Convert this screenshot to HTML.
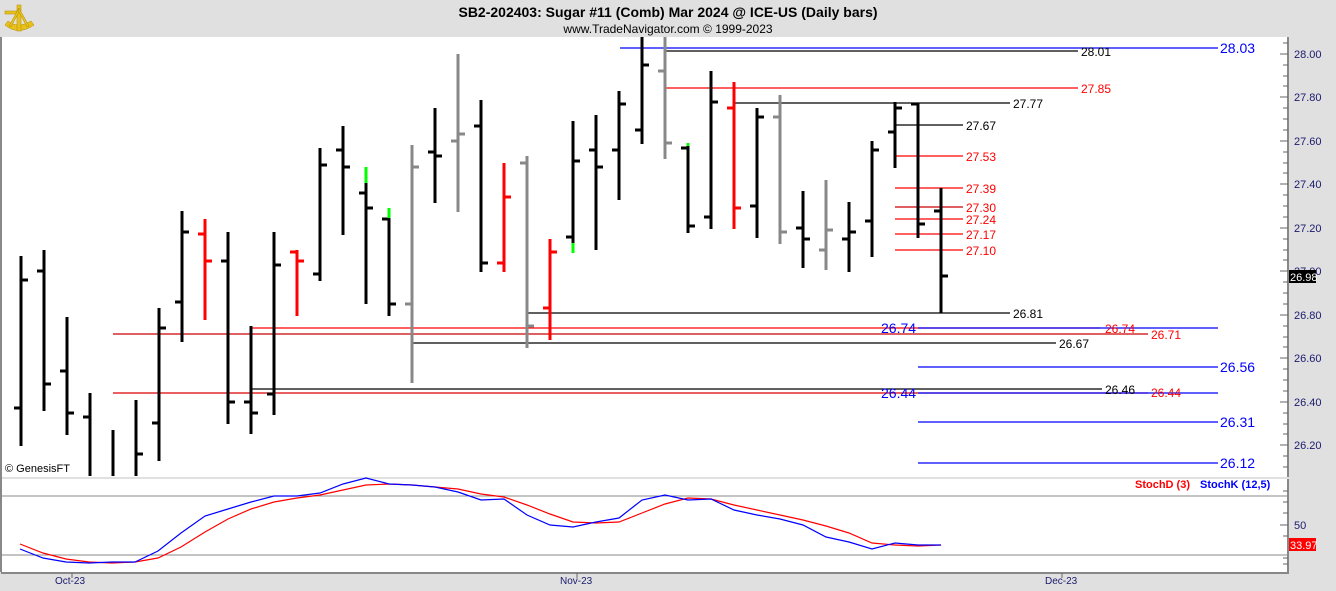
<!DOCTYPE html>
<html><head><meta charset="utf-8"><style>
body{margin:0;background:#e0e0e0;}
svg{display:block;font-family:"Liberation Sans",sans-serif;}
</style></head><body>
<svg width="1336" height="591" viewBox="0 0 1336 591" xmlns="http://www.w3.org/2000/svg">
<rect width="1336" height="591" fill="#e0e0e0"/>
<g fill="#e8c21a" stroke="#b08a00" stroke-width="0.5">
<path d="M5 25 Q18 36 34 25 L31 21 Q18 29 8 21 Z"/>
<rect x="17" y="5" width="4" height="26"/>
<rect x="5" y="11" width="12" height="3"/>
<path d="M19 8 L9 26 L11 27 L20 10 Z"/><path d="M19 8 L29 26 L27 27 L18 10 Z"/>
</g>
<text x="668" y="17" text-anchor="middle" font-size="14" font-weight="bold">SB2-202403:  Sugar #11 (Comb) Mar 2024 @ ICE-US  (Daily bars)</text>
<text x="668" y="33" text-anchor="middle" font-size="12">www.TradeNavigator.com © 1999-2023</text>
<rect x="1" y="37" width="1286" height="440" fill="#fff"/>
<rect x="1" y="479" width="1286" height="93" fill="#fff"/>
<line x1="1" y1="37" x2="1" y2="572" stroke="#888" stroke-width="2"/>
<line x1="1288" y1="37" x2="1288" y2="477" stroke="#888" stroke-width="2"/>
<line x1="1288" y1="479" x2="1288" y2="573" stroke="#888" stroke-width="2"/>
<line x1="1" y1="573" x2="1289" y2="573" stroke="#888" stroke-width="2"/>
<g stroke="#666" stroke-width="1">
<path d="M1280 54H1288M1280 97H1288M1280 141H1288M1280 184H1288M1280 228H1288M1280 271H1288M1280 315H1288M1280 358H1288M1280 402H1288M1280 445H1288"/>
<path d="M1283 43H1288M1283 65H1288M1283 76H1288M1283 86H1288M1283 108H1288M1283 119H1288M1283 130H1288M1283 152H1288M1283 163H1288M1283 173H1288M1283 195H1288M1283 206H1288M1283 217H1288M1283 239H1288M1283 250H1288M1283 260H1288M1283 282H1288M1283 293H1288M1283 304H1288M1283 326H1288M1283 337H1288M1283 347H1288M1283 369H1288M1283 380H1288M1283 391H1288M1283 413H1288M1283 424H1288M1283 434H1288M1283 456H1288M1283 467H1288"/>
<path d="M1283 491H1288M1283 502H1288M1283 513H1288M1280 525H1288M1283 536H1288M1283 558H1288M1283 564H1288"/>
</g>
<g font-size="11" fill="#1a1a6e">
<text x="1294" y="58">28.00</text><text x="1294" y="101">27.80</text><text x="1294" y="145">27.60</text><text x="1294" y="188">27.40</text><text x="1294" y="232">27.20</text><text x="1294" y="275">27.00</text><text x="1294" y="319">26.80</text><text x="1294" y="362">26.60</text><text x="1294" y="406">26.40</text><text x="1294" y="449">26.20</text>
<text x="1294" y="529">50</text>
</g>
<rect x="1289" y="270" width="27" height="13" fill="#000"/>
<text x="1290" y="281" font-size="11" fill="#fff">26.98</text>
<rect x="1289" y="538" width="27" height="13" fill="#f00"/>
<text x="1290" y="549" font-size="11" fill="#fff">33.97</text>
<g stroke-width="1.2">
<line x1="620" y1="48" x2="1218" y2="48" stroke="#00f"/>
<line x1="665" y1="51" x2="1078" y2="51" stroke="#000"/>
<line x1="665" y1="88" x2="1078" y2="88" stroke="#f00"/>
<line x1="734" y1="103" x2="1010" y2="103" stroke="#000"/>
<line x1="895" y1="125" x2="963" y2="125" stroke="#000"/>
<line x1="895" y1="156" x2="963" y2="156" stroke="#f00"/>
<line x1="895" y1="188" x2="963" y2="188" stroke="#f00"/>
<line x1="895" y1="207" x2="963" y2="207" stroke="#c00"/>
<line x1="895" y1="219" x2="963" y2="219" stroke="#f00"/>
<line x1="895" y1="234" x2="963" y2="234" stroke="#f00"/>
<line x1="895" y1="250" x2="963" y2="250" stroke="#f00"/>
<line x1="527" y1="313" x2="1010" y2="313" stroke="#000"/>
<line x1="251" y1="328" x2="1100" y2="328" stroke="#f00"/>
<line x1="918" y1="328" x2="1218" y2="328" stroke="#00f"/>
<line x1="113" y1="334" x2="1148" y2="334" stroke="#c00"/>
<line x1="412" y1="343" x2="1056" y2="343" stroke="#000"/>
<line x1="918" y1="367" x2="1218" y2="367" stroke="#00f"/>
<line x1="251" y1="389" x2="1102" y2="389" stroke="#000"/>
<line x1="113" y1="393" x2="1148" y2="393" stroke="#d00"/>
<line x1="918" y1="393" x2="1218" y2="393" stroke="#00f"/>
<line x1="918" y1="422" x2="1218" y2="422" stroke="#00f"/>
<line x1="918" y1="463" x2="1218" y2="463" stroke="#00f"/>
</g>
<g font-size="12">
<text x="1081" y="56" fill="#000">28.01</text>
<text x="1081" y="93" fill="#f00">27.85</text>
<text x="1013" y="108" fill="#000">27.77</text>
<text x="966" y="130" fill="#000">27.67</text>
<text x="966" y="161" fill="#f00">27.53</text>
<text x="966" y="193" fill="#f00">27.39</text>
<text x="966" y="212" fill="#f00">27.30</text>
<text x="966" y="224" fill="#f00">27.24</text>
<text x="966" y="239" fill="#f00">27.17</text>
<text x="966" y="255" fill="#f00">27.10</text>
<text x="1013" y="318" fill="#000">26.81</text>
<text x="1105" y="333" fill="#f00">26.74</text>
<text x="1151" y="339" fill="#f00">26.71</text>
<text x="1059" y="348" fill="#000">26.67</text>
<text x="1105" y="394" fill="#000">26.46</text>
<text x="1151" y="397" fill="#f00">26.44</text>
</g>
<g font-size="14" fill="#00f">
<text x="1220" y="53">28.03</text>
<text x="881" y="333">26.74</text>
<text x="1220" y="372">26.56</text>
<text x="881" y="398">26.44</text>
<text x="1220" y="427">26.31</text>
<text x="1220" y="468">26.12</text>
</g>
<g fill="none" stroke-width="3" stroke-linecap="butt">
<path stroke="#000" d="M21 256V446M14 408H21M21 280H28M44 250V411M37 271H44M44 384H51M67 317V435M60 371H67M67 413H74M90 393V476M83 417H90M113 430V476M136 400V476M136 454H143M159 308V461M152 423H159M159 328H166M182 211V342M175 302H182M182 232H189M228 232V424M221 261H228M228 402H235M251 326V434M244 402H251M251 413H258M274 232V415M267 394H274M274 265H281M320 148V281M313 274H320M320 165H327M343 126V235M336 150H343M343 167H350M366 183V304M359 193H366M366 208H373M389 218V316M382 219H389M389 304H396M435 108V203M428 152H435M435 156H442M481 100V272M474 126H481M481 263H488M573 121V243M566 237H573M573 161H580M596 115V250M589 150H596M596 167H603M619 91V200M612 150H619M619 104H626M642 37V144M635 130H642M642 65H649M688 146V233M681 148H688M688 226H695M711 71V229M704 217H711M711 102H718M757 108V238M750 206H757M757 117H764M803 191V268M796 228H803M803 239H810M849 202V272M842 239H849M849 232H856M872 141V257M865 221H872M872 150H879M895 102V168M888 132H895M895 108H902M918 103V238M911 104H918M918 224H925M941 188V313M934 211H941M941 276H948"/>
<path stroke="#f00" d="M205 219V320M198 234H205M205 261H212M297 250V316M290 252H297M297 261H304M504 163V272M497 263H504M504 197H511M550 239V340M543 308H550M550 252H557M734 82V229M727 108H734M734 208H741"/>
<path stroke="#888" d="M412 145V383M405 304H412M412 167H419M458 54V212M451 141H458M458 134H465M527 156V348M520 163H527M527 326H534M665 37V159M658 71H665M665 143H672M780 95V244M773 117H780M780 232H787M826 180V270M819 250H826M826 230H833"/>
<path stroke="#0f0" d="M366 167V183M389 208V218M573 243V253M688 143V146"/>
</g>
<text x="5" y="472" font-size="11" fill="#000">© GenesisFT</text>
<line x1="1" y1="496" x2="1287" y2="496" stroke="#888"/>
<line x1="1" y1="555" x2="1287" y2="555" stroke="#888"/>
<polyline fill="none" stroke="#f00" stroke-width="1.2" points="20,544 43,553 66,559 89,562 112,563 135,562 158,558 181,547 205,532 228,519 251,509 274,502 297,498 320,495 343,490 366,485 389,484 412,485 435,487 458,489 481,494 504,497 527,505 550,514 573,522 596,523 619,522 642,513 665,504 688,498 711,499 734,505 757,510 780,515 803,520 826,526 849,533 872,543 895,545 918,546 941,545"/>
<polyline fill="none" stroke="#00f" stroke-width="1.2" points="20,549 43,558 66,562 89,563 112,562 135,562 158,551 181,533 205,516 228,509 251,502 274,496 297,496 320,493 343,484 366,478 389,484 412,485 435,487 458,492 481,500 504,499 527,515 550,525 573,527 596,522 619,518 642,500 665,495 688,500 711,499 734,510 757,515 780,519 803,525 826,537 849,542 872,549 895,543 918,545 941,545"/>
<text x="1135" y="488" font-size="11" font-weight="bold" fill="#f00">StochD (3)</text>
<text x="1200" y="488" font-size="11" font-weight="bold" fill="#00f">StochK (12,5)</text>
<g stroke="#666"><path d="M72 573V578M577 573V578M1062 573V578"/></g>
<g font-size="10" fill="#1a1a6e">
<text x="55" y="584">Oct-23</text><text x="560" y="584">Nov-23</text><text x="1045" y="584">Dec-23</text>
</g>
</svg>
</body></html>
